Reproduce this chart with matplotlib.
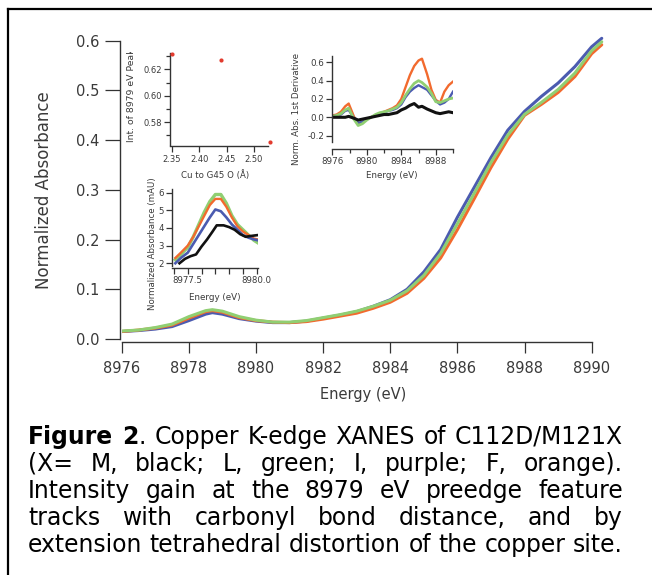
import matplotlib
matplotlib.use('Agg')
import matplotlib.pyplot as plt
from matplotlib.ticker import MultipleLocator, FormatStrFormatter, FixedLocator
from matplotlib.transforms import Bbox, TransformedBbox
import matplotlib.lines as mlines

# ---------------- data ----------------
# main XANES spectra
energy = [8976.0, 8976.5, 8977.0, 8977.5, 8978.0, 8978.5, 8978.7, 8979.0, 8979.5, 8980.0,
          8980.5, 8981.0, 8981.5, 8982.0, 8982.5, 8983.0, 8983.5, 8984.0, 8984.5, 8985.0,
          8985.5, 8986.0, 8986.5, 8987.0, 8987.5, 8988.0, 8988.5, 8989.0, 8989.5, 8990.0, 8990.3]
abs_purple = [0.015, 0.017, 0.020, 0.025, 0.037, 0.050, 0.053, 0.050, 0.041, 0.036,
              0.033, 0.033, 0.036, 0.042, 0.048, 0.055, 0.066, 0.079, 0.100, 0.135,
              0.180, 0.245, 0.305, 0.365, 0.420, 0.458, 0.488, 0.515, 0.548, 0.588, 0.605]
abs_orange = [0.015, 0.018, 0.022, 0.028, 0.042, 0.055, 0.057, 0.054, 0.043, 0.037,
              0.034, 0.033, 0.035, 0.040, 0.046, 0.052, 0.062, 0.074, 0.092, 0.122,
              0.163, 0.220, 0.282, 0.345, 0.402, 0.450, 0.472, 0.496, 0.528, 0.574, 0.592]
abs_green = [0.016, 0.018, 0.023, 0.030, 0.045, 0.057, 0.059, 0.056, 0.045, 0.038,
             0.034, 0.034, 0.037, 0.043, 0.049, 0.056, 0.066, 0.078, 0.097, 0.128,
             0.172, 0.232, 0.293, 0.355, 0.410, 0.452, 0.476, 0.502, 0.535, 0.580, 0.598]

# inset: peak intensity vs Cu-O distance
cu_o_dist = [2.35, 2.44, 2.53]
peak_int = [0.632, 0.6275, 0.565]

# inset: first derivative
d_energy = [8976.0, 8976.5, 8977.0, 8977.5, 8977.9, 8978.5, 8979.0, 8979.5, 8980.0, 8980.5,
            8981.0, 8981.5, 8982.0, 8982.5, 8983.0, 8983.5, 8984.0, 8984.5, 8985.0, 8985.5,
            8986.0, 8986.4, 8987.0, 8987.5, 8988.0, 8988.5, 8989.0, 8989.5, 8990.0]
d_orange = [0.02, 0.03, 0.06, 0.12, 0.15, 0.01, -0.08, -0.05, -0.02, 0.00,
            0.02, 0.04, 0.06, 0.08, 0.10, 0.13, 0.20, 0.33, 0.46, 0.56,
            0.62, 0.64, 0.47, 0.30, 0.19, 0.16, 0.28, 0.35, 0.39]
d_green = [0.01, 0.02, 0.04, 0.08, 0.10, -0.02, -0.09, -0.07, -0.03, 0.00,
           0.03, 0.05, 0.06, 0.07, 0.09, 0.11, 0.16, 0.24, 0.31, 0.37,
           0.40, 0.38, 0.33, 0.26, 0.17, 0.16, 0.18, 0.20, 0.21]
d_purple = [0.01, 0.02, 0.03, 0.07, 0.08, -0.01, -0.06, -0.05, -0.02, 0.00,
            0.02, 0.04, 0.05, 0.07, 0.08, 0.10, 0.14, 0.22, 0.28, 0.32,
            0.35, 0.33, 0.30, 0.24, 0.18, 0.14, 0.16, 0.20, 0.28]
d_black = [0.00, 0.00, 0.00, 0.00, 0.01, -0.01, -0.03, -0.02, -0.01, 0.00,
           0.01, 0.02, 0.03, 0.03, 0.04, 0.05, 0.08, 0.10, 0.13, 0.15,
           0.11, 0.12, 0.09, 0.07, 0.05, 0.04, 0.05, 0.06, 0.05]

# inset: preedge (mAU)
p_energy = [8977.05, 8977.25, 8977.5, 8977.7, 8977.9, 8978.1, 8978.3, 8978.5, 8978.7,
            8978.9, 8979.1, 8979.3, 8979.5, 8979.7, 8979.9, 8980.05]
p_green = [2.2, 2.5, 2.9, 3.5, 4.2, 4.9, 5.5, 5.9, 5.9, 5.4, 4.7, 4.2, 3.9, 3.6, 3.3, 3.15]
p_orange = [2.3, 2.6, 3.0, 3.5, 4.1, 4.7, 5.3, 5.65, 5.65, 5.2, 4.6, 4.1, 3.8, 3.6, 3.4, 3.35]
p_purple = [2.0, 2.3, 2.6, 3.1, 3.6, 4.1, 4.6, 5.05, 4.95, 4.6, 4.2, 3.9, 3.6, 3.45, 3.35, 3.3]
p_black_e = [8977.2, 8977.4, 8977.6, 8977.8, 8978.0, 8978.2, 8978.4, 8978.55, 8978.8,
             8979.0, 8979.2, 8979.4, 8979.6, 8979.8, 8980.05]
p_black = [2.0, 2.25, 2.4, 2.5, 2.95, 3.35, 3.8, 4.15, 4.15, 4.05, 3.9, 3.65, 3.5, 3.55, 3.6]

caption_lines = [
    [[("Figure", "bold")], [("2", "bold"), (".", "normal")], [("Copper", "normal")],
     [("K-edge", "normal")], [("XANES", "normal")], [("of", "normal")], [("C112D/M121X", "normal")]],
    [[(w, "normal")] for w in "(X= M, black; L, green; I, purple; F, orange).".split()],
    [[(w, "normal")] for w in "Intensity gain at the 8979 eV preedge feature".split()],
    [[(w, "normal")] for w in "tracks with carbonyl bond distance, and by".split()],
    [[(w, "normal")] for w in "extension tetrahedral distortion of the copper site.".split()],
]

C_OR = '#f26a2e'
C_PU = '#4b5bb0'
C_GR = '#90cf72'
C_BK = '#111111'
C_RED = '#e23b2e'
TXT = '#3a3a3a'

W, H = 652, 575
fig = plt.figure(figsize=(W / 100, H / 100), dpi=100)
plt.rcParams['font.family'] = ['DejaVu Sans']


def fax(l, r, t, b):
    return fig.add_axes([l / W, 1 - b / H, (r - l) / W, (b - t) / H])


def ftext(x, y, s, **kw):
    return fig.text(x / W, 1 - y / H, s, **kw)


def style(ax, fs, length, pad):
    for s in ['top', 'right']:
        ax.spines[s].set_visible(False)
    for s in ['left', 'bottom']:
        ax.spines[s].set_color('#333333')
        ax.spines[s].set_linewidth(1.0)
    ax.tick_params(which='both', direction='out', width=0.9, colors='#333333',
                   labelcolor=TXT, labelsize=fs, pad=pad)
    ax.tick_params(which='major', length=length)
    ax.tick_params(which='minor', length=length * 0.8)
    ax.set_facecolor('none')


# ---------------- main axes ----------------
ax = fax(121.7, 605.1, 339 - 0.61 * 497, 339)
ax.plot(energy, abs_purple, color=C_PU, lw=2.2, solid_capstyle='round')
ax.plot(energy, abs_orange, color=C_OR, lw=2.2, solid_capstyle='round')
ax.plot(energy, abs_green, color=C_GR, lw=2.2, solid_capstyle='round')
ax.set_xlim(8976, 8990.4)
ax.set_ylim(0, 0.61)
style(ax, 10.5, 9, 4)
ax.spines['left'].set_bounds(0, 0.6)
ax.spines['bottom'].set_bounds(8976, 8990)
ax.spines['bottom'].set_position(('outward', 2))
ax.spines['left'].set_position(('outward', 1))
ax.xaxis.set_major_locator(MultipleLocator(2))
ax.yaxis.set_major_locator(FixedLocator([0, 0.1, 0.2, 0.3, 0.4, 0.5, 0.6]))
ax.yaxis.set_major_formatter(FormatStrFormatter('%.1f'))
ax.tick_params(axis='x', length=8, pad=6)
ax.tick_params(axis='y', length=11)
ax.set_xlabel('Energy (eV)', fontsize=10.5, color=TXT, labelpad=8)
ftext(44, 190, 'Normalized Absorbance', rotation=90, ha='center', va='center',
      fontsize=12, color=TXT)

# ---------------- inset 1: scatter ----------------
a1 = fax(170, 268, 53, 145)
a1.scatter(cu_o_dist, peak_int, s=9, color=C_RED, zorder=3, clip_on=False, linewidths=0)
a1.set_xlim(2.3463, 2.5256)
a1.set_ylim(0.5626, 0.6325)
style(a1, 6, 4, 2)
a1.yaxis.set_major_locator(FixedLocator([0.58, 0.60, 0.62]))
a1.yaxis.set_minor_locator(FixedLocator([0.57, 0.59, 0.61, 0.63]))
a1.yaxis.set_major_formatter(FormatStrFormatter('%.2f'))
a1.xaxis.set_major_locator(FixedLocator([2.35, 2.40, 2.45, 2.50]))
a1.xaxis.set_major_formatter(FormatStrFormatter('%.2f'))
a1.spines['bottom'].set_position(('outward', 1))
ftext(215, 175, 'Cu to G45 O (Å)', ha='center', va='center', fontsize=6.2, color=TXT)
t1 = ftext(132, 142, 'Int. of 8979 eV Peak', rotation=90, ha='center', va='bottom',
           fontsize=6.7, color=TXT)
t1.set_clip_box(TransformedBbox(Bbox([[0, 0], [1, 1 - 52 / H]]), fig.transFigure))
t1.set_clip_on(True)

# ---------------- inset 2: derivative ----------------
a2 = fax(332.3, 453, 56.5, 142)
a2.plot(d_energy, d_orange, color=C_OR, lw=1.7)
a2.plot(d_energy, d_purple, color=C_PU, lw=1.7)
a2.plot(d_energy, d_green, color=C_GR, lw=2.0)
a2.plot(d_energy, d_black, color=C_BK, lw=2.2)
a2.set_xlim(8976, 8990)
a2.set_ylim(-0.27, 0.664)
style(a2, 6.3, 4, 2)
a2.yaxis.set_major_locator(FixedLocator([-0.2, 0.0, 0.2, 0.4, 0.6]))
a2.yaxis.set_major_formatter(FormatStrFormatter('%.1f'))
a2.xaxis.set_major_locator(FixedLocator([8976, 8980, 8984, 8988]))
a2.xaxis.set_minor_locator(FixedLocator([8978, 8982, 8986, 8990]))
a2.spines['bottom'].set_position(('outward', 5))
ftext(392, 175, 'Energy (eV)', ha='center', va='center', fontsize=6.3, color=TXT)
ftext(296.5, 109, 'Norm. Abs. 1st Derivative', rotation=90, ha='center', va='center',
      fontsize=6.3, color=TXT)

# ---------------- inset 3: preedge ----------------
a3 = fax(172.3, 258.1, 189.2, 265.9)
a3.plot(p_energy, p_green, color=C_GR, lw=2.4)
a3.plot(p_energy, p_orange, color=C_OR, lw=1.7)
a3.plot(p_energy, p_purple, color=C_PU, lw=1.9)
a3.plot(p_black_e, p_black, color=C_BK, lw=1.9)
a3.set_xlim(8976.94, 8980.05)
a3.set_ylim(1.85, 6.2)
style(a3, 6.2, 4, 2)
a3.xaxis.set_major_locator(FixedLocator([8977.5, 8980.0]))
a3.xaxis.set_minor_locator(FixedLocator([8977.0, 8978.0, 8978.5, 8979.0, 8979.5]))
a3.tick_params(axis='x', which='minor', length=4)
a3.xaxis.set_major_formatter(FormatStrFormatter('%.1f'))
a3.yaxis.set_major_locator(FixedLocator([2, 3, 4, 5, 6]))
a3.yaxis.set_major_formatter(FormatStrFormatter('%d'))
a3.spines['bottom'].set_position(('outward', 1.5))
ftext(215, 297.5, 'Energy (eV)', ha='center', va='center', fontsize=6.3, color=TXT)
ftext(153, 244, 'Normalized Absorbance (mAU)', rotation=90, ha='center', va='center',
      fontsize=6.2, color=TXT)

# ---------------- frame ----------------
fig.add_artist(mlines.Line2D([8 / W, 8 / W], [0, 1 - 9 / H], transform=fig.transFigure,
                             color='black', lw=1.6))
fig.add_artist(mlines.Line2D([8 / W, 1], [1 - 9 / H, 1 - 9 / H], transform=fig.transFigure,
                             color='black', lw=1.6))

# ---------------- caption (justified) ----------------
renderer = fig.canvas.get_renderer()


def measure(s, weight, fs):
    t = fig.text(0, 0, s, fontsize=fs, fontweight=weight)
    w = t.get_window_extent(renderer).width
    t.remove()
    return w


x_left, x_right = 28, 623
base = 12.0
last = caption_lines[-1]
nat = sum(sum(measure(r, wt, base) for r, wt in word) for word in last)
sp = measure('a a', 'normal', base) - measure('aa', 'normal', base)
nat += sp * (len(last) - 1)
fs = base * (x_right - x_left) / nat

line_y = [437, 464, 491, 518, 545]
for words, yy in zip(caption_lines, line_y):
    widths = [[measure(r, wt, fs) for r, wt in word] for word in words]
    tot = sum(sum(w) for w in widths)
    gap = (x_right - x_left - tot) / (len(words) - 1)
    x = x_left
    for word, ws in zip(words, widths):
        for (r, wt), w in zip(word, ws):
            ftext(x, yy, r, fontsize=fs, fontweight=wt, ha='left', va='center', color='black')
            x += w
        x += gap

fig.savefig('out.png', dpi=100)
